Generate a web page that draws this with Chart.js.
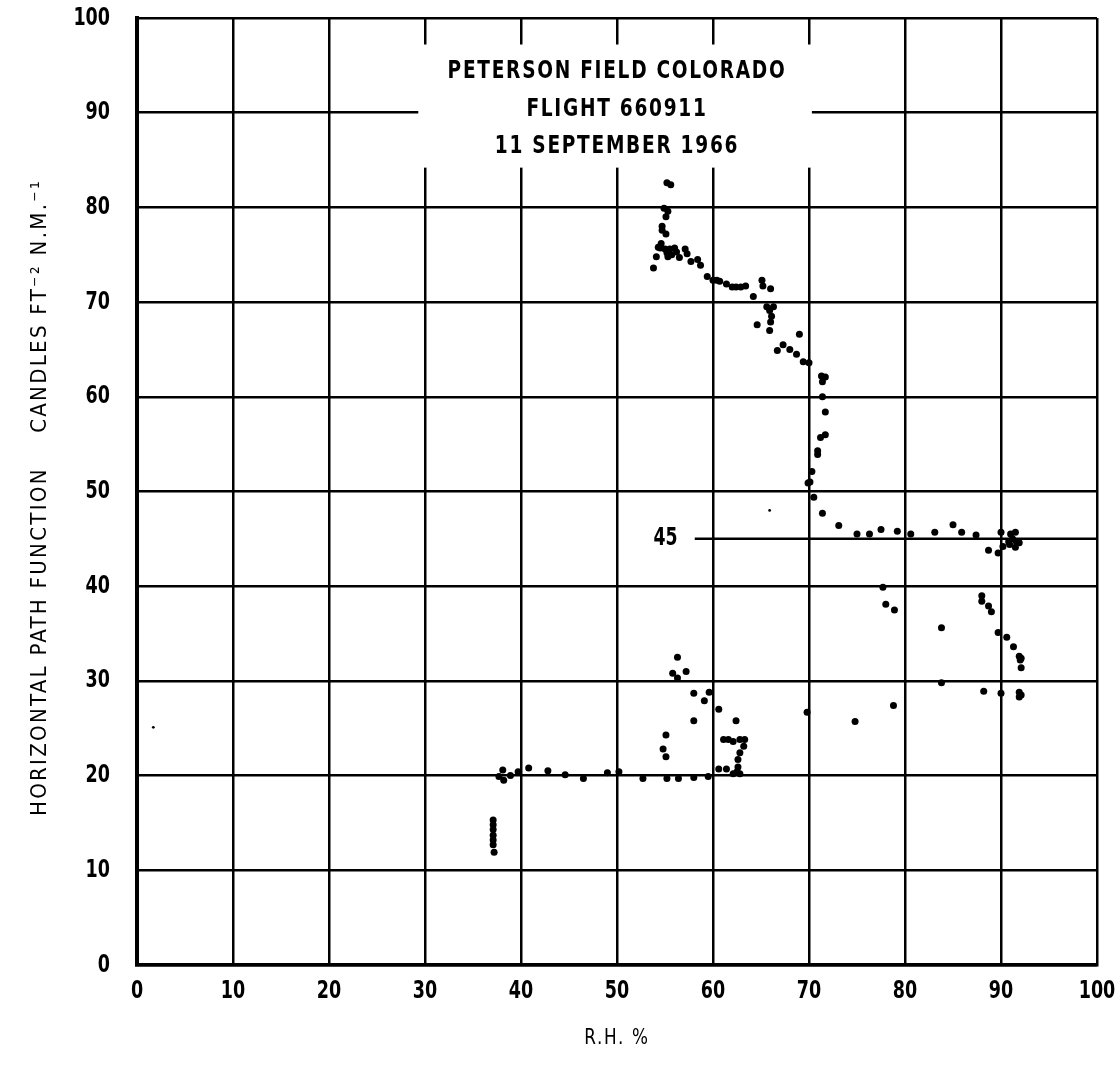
<!DOCTYPE html>
<html>
<head>
<meta charset="utf-8">
<script src="https://cdn.jsdelivr.net/npm/chart.js@4.4.1/dist/chart.umd.min.js"></script>
<style>
  body { margin: 0; background: #fff; }
  #wrap { width: 1116px; height: 1067px; }
</style>
</head>
<body>
<div id="wrap"><canvas id="chart" width="1116" height="1067"></canvas></div>
<script>
// R.H. % (x) and horizontal path function (y)
const rh = [
    55.2, 55.6, 54.9, 55.3, 55.1, 54.7, 54.7, 55.1, 54.6, 54.3,
    54.5, 55.0, 55.5, 56.0, 55.2, 55.7, 55.3, 56.2, 57.1, 57.3,
    54.1, 56.5, 53.8, 57.7, 58.4, 58.7, 59.4, 60.0, 60.4, 60.7,
    61.4, 62.0, 62.4, 62.9, 63.4, 65.1, 65.2, 66.0, 64.2, 65.6,
    66.3, 65.9, 66.1, 66.0, 64.6, 65.9, 69.0, 67.3, 66.7, 68.0,
    68.7, 69.4, 70.0, 71.3, 71.7, 71.4, 71.4, 71.7, 71.2, 71.7,
    70.9, 70.9, 70.3, 70.1, 69.9, 70.5, 71.4, 73.1, 75.0, 76.3,
    77.5, 79.2, 80.6, 83.1, 85.0, 85.9, 87.4, 90.0, 91.0, 91.5,
    90.2, 90.8, 91.2, 91.6, 91.9, 91.5, 90.9, 88.7, 89.7, 77.7,
    78.0, 78.9, 83.8, 88.0, 88.0, 88.7, 89.0, 89.7, 90.6, 91.3,
    91.9, 92.1, 92.0, 92.1, 83.8, 88.2, 90.0, 91.9, 92.1, 91.9,
    78.8, 74.8, 69.8, 57.2, 56.3, 55.8, 56.3, 58.0, 59.1, 59.6,
    60.6, 62.4, 58.0, 55.1, 54.8, 55.1, 61.1, 61.6, 62.1, 62.8,
    63.3, 63.2, 62.8, 62.6, 62.6, 62.5, 62.1, 61.4, 60.6, 62.8,
    40.8, 42.8, 44.6, 46.5, 49.0, 50.2, 52.7, 55.2, 56.4, 58.0,
    59.5, 38.1, 37.7, 38.2, 38.9, 39.7, 37.1, 37.1, 37.1, 37.1,
    37.1, 37.1, 37.2
];
const pathFn = [
    82.6, 82.4, 79.9, 79.6, 79.0, 78.0, 77.6, 77.2, 76.2, 75.8,
    75.7, 75.6, 75.6, 75.7, 75.2, 75.0, 74.8, 75.3, 75.6, 75.1,
    74.8, 74.7, 73.6, 74.3, 74.5, 73.9, 72.7, 72.3, 72.3, 72.2,
    71.9, 71.6, 71.6, 71.6, 71.7, 72.3, 71.7, 71.4, 70.6, 69.5,
    69.5, 69.1, 68.5, 67.9, 67.6, 67.0, 66.6, 65.5, 64.9, 65.0,
    64.5, 63.7, 63.6, 62.2, 62.1, 61.6, 60.0, 58.4, 55.7, 56.0,
    54.3, 53.9, 52.1, 51.0, 50.9, 49.4, 47.7, 46.4, 45.5, 45.5,
    46.0, 45.8, 45.5, 45.7, 46.5, 45.7, 45.4, 45.7, 45.5, 45.7,
    44.2, 44.7, 45.0, 44.7, 44.6, 44.1, 44.4, 43.8, 43.5, 39.9,
    38.1, 37.5, 35.6, 39.0, 38.4, 37.9, 37.3, 35.1, 34.6, 33.6,
    32.6, 32.4, 32.2, 31.4, 29.8, 28.9, 28.7, 28.8, 28.5, 28.3,
    27.4, 25.7, 26.7, 31.0, 32.5, 30.8, 30.3, 28.7, 27.9, 28.8,
    27.0, 25.8, 25.8, 24.3, 22.8, 22.0, 23.8, 23.8, 23.6, 23.8,
    23.8, 23.1, 22.4, 21.7, 20.9, 20.4, 20.2, 20.7, 20.7, 20.2,
    20.8, 20.5, 20.1, 19.7, 20.3, 20.4, 19.7, 19.7, 19.7, 19.8,
    19.9, 20.6, 19.9, 19.5, 20.0, 20.4, 15.3, 14.8, 14.3, 13.7,
    13.2, 12.7, 11.9
];
// two faint specks
const strayRh = [1.7, 65.9];
const strayPathFn = [25.1, 48.0];

// the marked 45 level
const markLevel = 45;
const markFrom = 58.1;

const xTicks = [0, 10, 20, 30, 40, 50, 60, 70, 80, 90, 100];
const yTicks = [0, 10, 20, 30, 40, 50, 60, 70, 80, 90, 100];

const titleLines = ['PETERSON FIELD COLORADO', 'FLIGHT 660911', '11 SEPTEMBER 1966'];

const NARROW = "'Liberation Sans Narrow', 'Arial Narrow', 'DejaVu Sans Condensed', sans-serif";

const toPoints = (xs, ys) => xs.map((x, i) => ({ x: x, y: ys[i] }));

// text squeezed sideways, the installed fonts are wider than the original
function narrowText(ctx, text, x, y, sx) {
    ctx.save();
    ctx.translate(x, y);
    ctx.scale(sx, 1);
    ctx.fillText(text, 0, 0);
    ctx.restore();
}

const overlay = {
    id: 'overlay',
    beforeDatasetsDraw(chart) {
        const { ctx, scales: { x, y } } = chart;
        // white panel that breaks the grid behind the title
        const l = x.getPixelForValue(29.3), r = x.getPixelForValue(70.3);
        const t = y.getPixelForValue(97.2), b = y.getPixelForValue(84.2);
        ctx.save();
        ctx.fillStyle = '#fff';
        ctx.fillRect(l, t, r - l, b - t);
        ctx.restore();
    },
    afterDraw(chart) {
        const { ctx, scales: { x, y } } = chart;
        ctx.save();
        ctx.fillStyle = '#000';
        ctx.textBaseline = 'middle';

        // tick labels, condensed
        ctx.font = 'bold 25px ' + NARROW;
        ctx.textAlign = 'right';
        y.ticks.forEach(t => narrowText(ctx, String(t.value), 110, y.getPixelForValue(t.value), 0.78));
        ctx.textAlign = 'center';
        x.ticks.forEach(t => narrowText(ctx, String(t.value), x.getPixelForValue(t.value), 991, 0.78));

        ctx.font = 'bold 24px ' + NARROW;
        ctx.letterSpacing = '2px';
        const cx = x.getPixelForValue(50);
        [94.3, 90.3, 86.4].forEach((v, i) => {
            narrowText(ctx, titleLines[i], cx, y.getPixelForValue(v), 0.86);
        });

        ctx.letterSpacing = '0px';
        ctx.textAlign = 'right';
        narrowText(ctx, String(markLevel), x.getPixelForValue(56.3), y.getPixelForValue(markLevel), 0.8);

        // axis titles
        ctx.textAlign = 'center';
        ctx.font = '22px ' + NARROW;
        ctx.letterSpacing = '2px';
        narrowText(ctx, 'R.H. %', cx, 1038, 0.85);

        ctx.letterSpacing = '2.3px';
        ctx.translate(40, 816);
        ctx.rotate(-Math.PI / 2);
        ctx.textAlign = 'left';
        ctx.fillText('HORIZONTAL PATH FUNCTION    CANDLES FT\u207B\u00B2 N.M.\u207B\u00B9', 0, 0);
        ctx.restore();
    }
};

new Chart(document.getElementById('chart'), {
    type: 'scatter',
    data: {
        datasets: [
            {
                data: toPoints(rh, pathFn),
                backgroundColor: '#000',
                borderWidth: 0,
                pointRadius: 3.5
            },
            {
                data: toPoints(strayRh, strayPathFn),
                backgroundColor: '#000',
                borderWidth: 0,
                pointRadius: 1.4
            },
            {
                data: [{ x: markFrom, y: markLevel }, { x: 100, y: markLevel }],
                showLine: true,
                borderColor: '#000',
                borderWidth: 2.5,
                pointRadius: 0
            }
        ]
    },
    plugins: [overlay],
    options: {
        responsive: false,
        animation: false,
        layout: { padding: { left: 0, top: 18, right: 19, bottom: 0 } },
        plugins: {
            legend: { display: false },
            tooltip: { enabled: false }
        },
        scales: {
            x: {
                type: 'linear',
                min: 0, max: 100,
                afterBuildTicks: s => { s.ticks = xTicks.map(v => ({ value: v })); },
                afterFit: s => { s.height = 102; s.paddingLeft = 0; s.paddingRight = 0; },
                grid: { color: '#000', lineWidth: 2.5, drawTicks: false },
                border: { display: true, color: '#000', width: 3.5 },
                ticks: { display: false }
            },
            y: {
                type: 'linear',
                min: 0, max: 100,
                afterBuildTicks: s => { s.ticks = yTicks.map(v => ({ value: v })); },
                afterFit: s => { s.width = 137; s.paddingTop = 0; s.paddingBottom = 0; },
                grid: { color: '#000', lineWidth: 2.5, drawTicks: false },
                border: { display: true, color: '#000', width: 4 },
                ticks: { display: false }
            }
        }
    }
});
</script>
</body>
</html>
